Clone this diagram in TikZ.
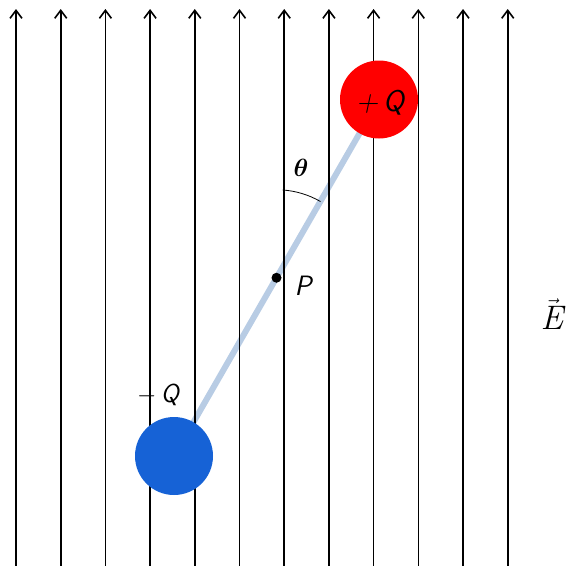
\documentclass[tikz,border=0pt]{standalone}
\usepackage{amsmath,bm}
\usepackage{fontspec}
\usetikzlibrary{arrows.meta,calc}
\definecolor{rodc}{RGB}{184,204,228}
\definecolor{posc}{RGB}{255,0,0}
\definecolor{negc}{RGB}{22,98,214}
\tikzset{
  field/.style={line width=1.6pt, -{Straight Barb[length=8pt,width=12pt,line width=1.6pt]}},
  charge/.style={circle, minimum size=78pt, inner sep=0pt},
  lbl/.style={font=\fontsize{30}{34}\selectfont\sffamily\slshape, inner sep=0pt},
}
\begin{document}
\begin{tikzpicture}[x=1pt,y=-1pt]
\useasboundingbox (0,0) rectangle (569,565);
% rod and charges positions
\coordinate (neg) at (174,456);
\coordinate (pos) at (379,99.5);
\coordinate (P) at ($(neg)!0.5!(pos)$);
\draw[rodc, line width=6pt] (neg) -- (pos);
% field lines
\foreach \i in {0,...,11}{
  \coordinate (b\i) at ({16+44.7*\i},566);
  \coordinate (t\i) at ({16+44.7*\i},9);
  \draw[field] (b\i) -- (t\i);
}
\node[charge, fill=posc] (qp) at (pos) {};
\node[charge, fill=negc] (qn) at (neg) {};
\node[lbl] (qpl) at (380,103) {+\,Q};
\node[lbl, font=\fontsize{26}{30}\selectfont\sffamily\slshape] (qnl) at (158,395) {$-$\,Q};
\fill (P) circle (5pt);
\node[lbl, font=\fontsize{28}{32}\selectfont\sffamily\slshape] (pl) at (303,286) {P};
\node[inner sep=0pt] (th) at (301,168) {\fontsize{28}{32}\selectfont$\bm{\theta}$};
\draw[line width=0.8pt] ($(P)+(-86:88)$) arc[start angle=-86, end angle=-60, radius=88];
\node[inner sep=0pt] (E) at (552,314) {\fontsize{34}{38}\selectfont$\vec{\mathsf{\mathit{E}}}$};
\end{tikzpicture}
\end{document}
